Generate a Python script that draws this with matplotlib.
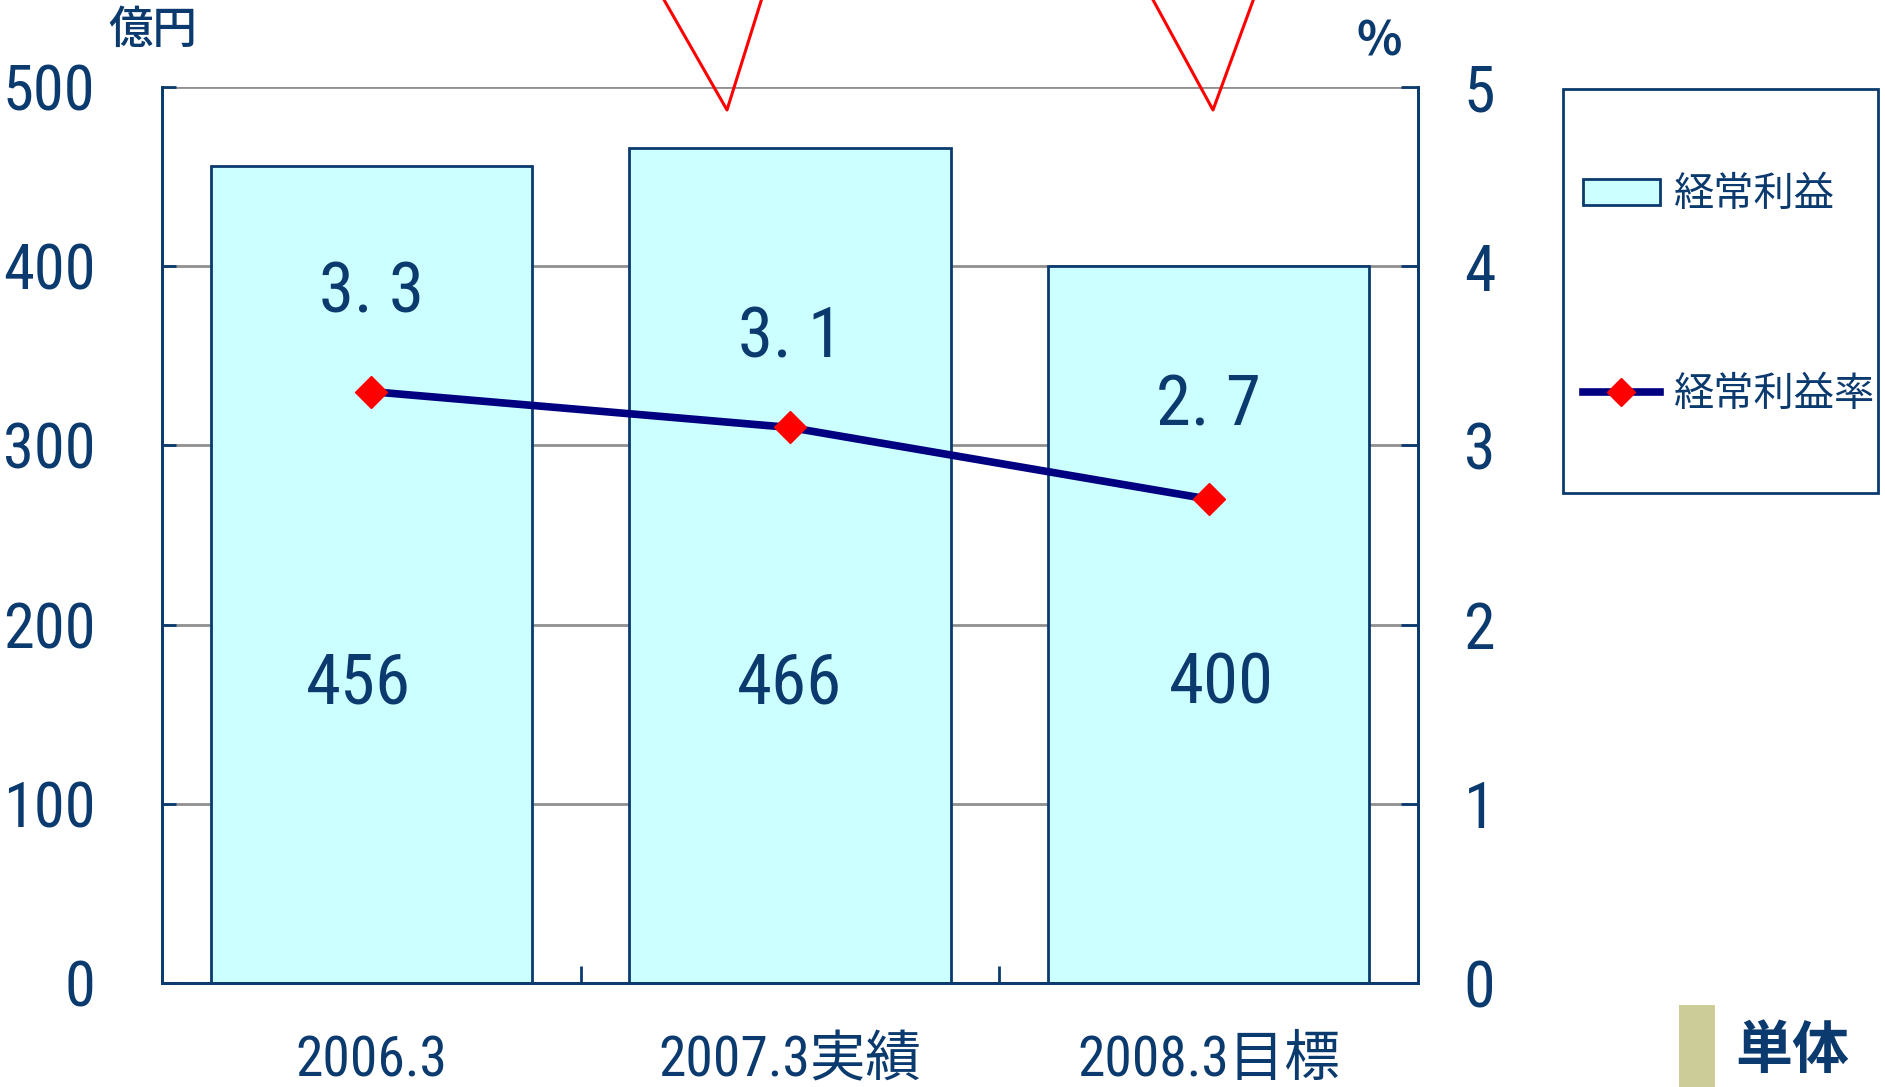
import matplotlib
matplotlib.use("Agg")
import matplotlib.pyplot as plt
from matplotlib import font_manager
from matplotlib.patches import Rectangle, Patch
from matplotlib.lines import Line2D

# ---------------- data ----------------
categories = ["2006.3", "2007.3実績", "2008.3目標"]
profit = [456, 466, 400]          # 経常利益 (億円)
rate = [3.3, 3.1, 2.7]            # 経常利益率 (%)
rate_labels = ["3. 3", "3. 1", "2. 7"]
left_ticks = [0, 100, 200, 300, 400, 500]
right_ticks = [0, 1, 2, 3, 4, 5]

# ---------------- style ----------------
W, H = 1885, 1087
DARK = "#0b3a6e"
BAR_FACE = "#ccffff"
LINE_C = "#000080"
GRID_C = "#8f8f8f"
CJK = "Noto Sans CJK JP"

# find a narrow / condensed latin font
fl = font_manager.fontManager.ttflist
names = {f.name for f in fl}
NARROW = None
STRETCH = "normal"
SCALE = 1.0
for cand in ["Liberation Sans Narrow", "Roboto Condensed", "Open Sans Condensed",
             "Noto Sans Condensed", "DejaVu Sans Condensed"]:
    if cand in names:
        NARROW = cand
        break
if NARROW is None:
    for f in fl:
        if ("Narrow" in f.name or "Condensed" in f.name) and "Mono" not in f.name:
            NARROW = f.name
            break
if NARROW is None:
    for f in fl:
        st = f.stretch
        if isinstance(st, str):
            cond = "condensed" in st
        else:
            cond = st < 500
        if cond and f.name in ("DejaVu Sans", "Roboto", "Open Sans", "Noto Sans", "Liberation Sans"):
            NARROW = f.name
            STRETCH = "condensed"
            SCALE = 0.95
            break
if NARROW is None:
    NARROW = "Roboto" if "Roboto" in names else "DejaVu Sans"
    SCALE = 0.8

FAM = [NARROW, CJK, "DejaVu Sans"]
plt.rcParams["font.family"] = FAM
plt.rcParams["font.stretch"] = STRETCH

fig = plt.figure(figsize=(W / 100, H / 100), dpi=100)
fx = lambda px: px / W
fy = lambda py: 1 - py / H

ax = fig.add_axes([fx(162), fy(983), fx(1418) - fx(162), fy(87) - fy(983)])
ax2 = ax.twinx()

x = list(range(len(categories)))
ax.bar(x, profit, width=0.767, color=BAR_FACE, edgecolor=DARK, linewidth=2.0, zorder=3)
ax.set_xlim(-0.5, 2.5)
ax.set_ylim(0, 500)
ax.set_yticks(left_ticks)
ax.yaxis.grid(True, color=GRID_C, linewidth=2.0, zorder=0)
ax.set_axisbelow(True)

ax.set_xticks(x)
ax.set_xticklabels(categories)
ax.set_xticks([0.5, 1.5], minor=True)
ax.tick_params(axis="x", which="major", length=0, pad=37, labelsize=40 * SCALE, labelcolor=DARK)
ax.tick_params(axis="x", which="minor", direction="in", length=12, width=2, color=DARK)
ax.tick_params(axis="y", direction="in", length=10, width=2, color=DARK,
               pad=48, labelsize=45 * SCALE, labelcolor=DARK)

ax2.set_ylim(0, 5)
ax2.set_yticks(right_ticks)
ax2.tick_params(axis="y", direction="in", length=12, width=2, color=DARK,
                pad=33, labelsize=46 * SCALE, labelcolor=DARK)

for a in (ax, ax2):
    a.spines["top"].set_visible(False)
    for s in ("left", "right", "bottom"):
        a.spines[s].set_color(DARK)
        a.spines[s].set_linewidth(2.0)

ax2.plot(x, rate, color=LINE_C, linewidth=5.5, marker="D", markersize=16,
         markerfacecolor="red", markeredgecolor="red", zorder=5)

# data labels
offs = [-0.03, 0.0, 0.03]
rate_lab_gap = [0.55, 0.50, 0.52]
for i, v in enumerate(profit):
    ax.text(i + offs[i], 167, f"{v}", ha="center", va="center",
            fontsize=51 * SCALE, color=DARK, zorder=6)
for i, (r, lab) in enumerate(zip(rate, rate_labels)):
    ax2.text(i, r + rate_lab_gap[i], lab, ha="center", va="center",
             fontsize=51 * SCALE, color=DARK, zorder=6)

# unit labels
fig.text(fx(153), fy(30), "億円", ha="center", va="center", fontsize=32,
         fontweight="medium", color=DARK, family=[CJK, "DejaVu Sans"])
fig.text(fx(1379), fy(42), "%", ha="center", va="center", fontsize=34,
         fontweight="bold", color=DARK, family=[CJK, "DejaVu Sans"])

# legend
handles = [
    Patch(facecolor=BAR_FACE, edgecolor=DARK, linewidth=2.0),
    Line2D([0], [0], color=LINE_C, linewidth=5.5, marker="D", markersize=14,
           markerfacecolor="red", markeredgecolor="red"),
]
leg = ax.legend(handles, ["経常利益", "経常利益率"], loc="center left",
                bbox_to_anchor=(fx(1583), fy(294.5)), bbox_transform=fig.transFigure,
                frameon=False, handlelength=1.9, handleheight=0.62,
                handletextpad=0.35, labelspacing=3.93, borderpad=0, borderaxespad=0,
                prop={"family": [CJK, "DejaVu Sans"], "size": 29})
for t in leg.get_texts():
    t.set_color(DARK)
fig.add_artist(Rectangle((fx(1563), fy(493)), fx(1878) - fx(1563), fy(89) - fy(493),
                         transform=fig.transFigure, fill=False, edgecolor=DARK, linewidth=2.0))

# decorative marks
fig.add_artist(Line2D([fx(663), fx(727), fx(762)], [fy(-2), fy(110), fy(-2)],
                      transform=fig.transFigure, color="red", linewidth=2.2, zorder=10))
fig.add_artist(Line2D([fx(1152), fx(1213), fx(1254)], [fy(-2), fy(110), fy(-2)],
                      transform=fig.transFigure, color="red", linewidth=2.2, zorder=10))
fig.add_artist(Rectangle((fx(1679), fy(1090)), fx(1715) - fx(1679), fy(1005) - fy(1090),
                         transform=fig.transFigure, facecolor="#cccc99", edgecolor="none"))
fig.text(fx(1792), fy(1051), "単体", ha="center", va="center", fontsize=41,
         fontweight="bold", color=DARK, family=[CJK, "DejaVu Sans"])

fig.savefig("out.png", dpi=100)
